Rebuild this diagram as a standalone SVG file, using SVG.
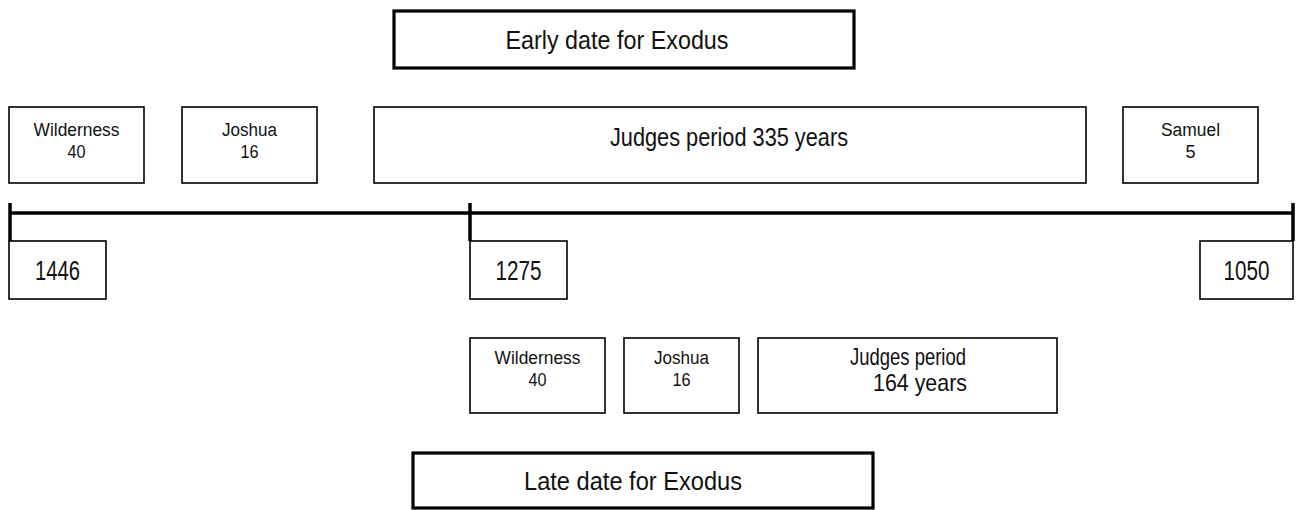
<svg xmlns="http://www.w3.org/2000/svg" width="1297" height="510" viewBox="0 0 1297 510">
<style>
.box{fill:#fff;stroke:#000;stroke-width:1.6}
.bold{fill:#fff;stroke:#000;stroke-width:3.2}
.axis{stroke:#000;stroke-width:3.5;fill:none}
text{font-family:"Liberation Sans",Arial,sans-serif;fill:#111;text-anchor:middle}
.s{font-size:18px}
.m{font-size:24px}
.l{font-size:25px}
.y{font-size:27px}
</style>
<rect width="1297" height="510" fill="#fff"/>
<g id="connectors">
<line class="axis" x1="10" y1="213" x2="1293" y2="213"/>
<line class="axis" x1="10" y1="203" x2="10" y2="241"/>
<line class="axis" x1="470" y1="203" x2="470" y2="241"/>
<line class="axis" x1="1293" y1="203" x2="1293" y2="241"/>
</g>
<g id="early"><rect class="bold" x="394" y="11" width="460" height="57"/><text class="l" x="617" y="49" textLength="223" lengthAdjust="spacingAndGlyphs">Early date for Exodus</text></g>
<g id="wild1"><rect class="box" x="9" y="107" width="135" height="76"/><text class="s" x="76.5" y="136" textLength="86" lengthAdjust="spacingAndGlyphs">Wilderness</text><text class="s" x="76.5" y="158" textLength="18" lengthAdjust="spacingAndGlyphs">40</text></g>
<g id="josh1"><rect class="box" x="182" y="107" width="135" height="76"/><text class="s" x="249.5" y="136" textLength="55" lengthAdjust="spacingAndGlyphs">Joshua</text><text class="s" x="249.5" y="158" textLength="18" lengthAdjust="spacingAndGlyphs">16</text></g>
<g id="judges1"><rect class="box" x="374" y="107" width="712" height="76"/><text class="l" x="729" y="146" textLength="238" lengthAdjust="spacingAndGlyphs">Judges period 335 years</text></g>
<g id="samuel"><rect class="box" x="1123" y="107" width="135" height="76"/><text class="s" x="1190.5" y="136" textLength="59" lengthAdjust="spacingAndGlyphs">Samuel</text><text class="s" x="1190.5" y="158">5</text></g>
<g id="y1446"><rect class="box" x="9" y="241" width="97" height="58"/><text class="y" x="57.5" y="280" textLength="45" lengthAdjust="spacingAndGlyphs">1446</text></g>
<g id="y1275"><rect class="box" x="470" y="241" width="97" height="58"/><text class="y" x="518.5" y="280" textLength="46" lengthAdjust="spacingAndGlyphs">1275</text></g>
<g id="y1050"><rect class="box" x="1200" y="241" width="93" height="58"/><text class="y" x="1246.5" y="280" textLength="46" lengthAdjust="spacingAndGlyphs">1050</text></g>
<g id="wild2"><rect class="box" x="470" y="338" width="135" height="75"/><text class="s" x="537.5" y="364" textLength="86" lengthAdjust="spacingAndGlyphs">Wilderness</text><text class="s" x="537.5" y="386" textLength="18" lengthAdjust="spacingAndGlyphs">40</text></g>
<g id="josh2"><rect class="box" x="624" y="338" width="115" height="75"/><text class="s" x="681.5" y="364" textLength="55" lengthAdjust="spacingAndGlyphs">Joshua</text><text class="s" x="681.5" y="386" textLength="18" lengthAdjust="spacingAndGlyphs">16</text></g>
<g id="judges2"><rect class="box" x="758" y="338" width="299" height="75"/><text class="m" x="908" y="365" textLength="116" lengthAdjust="spacingAndGlyphs">Judges period</text><text class="m" x="920" y="391" textLength="94" lengthAdjust="spacingAndGlyphs">164 years</text></g>
<g id="late"><rect class="bold" x="413" y="453" width="460" height="55"/><text class="l" x="633" y="490" textLength="218" lengthAdjust="spacingAndGlyphs">Late date for Exodus</text></g>
</svg>
